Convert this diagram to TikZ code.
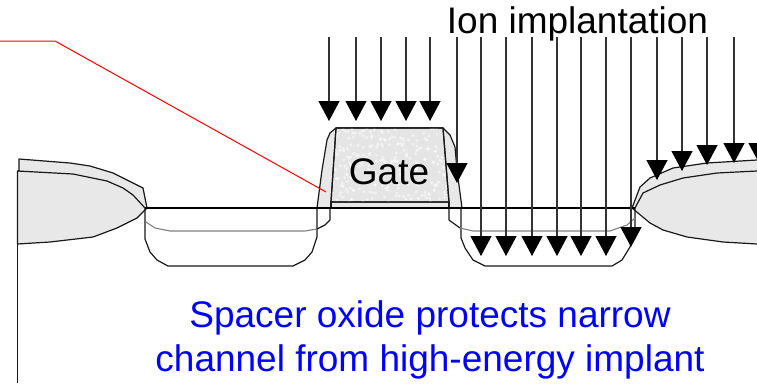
\documentclass[tikz,border=0pt]{standalone}
\usepackage{fontspec}
\setmainfont{Liberation Sans}
\usetikzlibrary{arrows.meta}
\definecolor{OxideGray}{gray}{0.91}
\definecolor{PolyGray}{gray}{0.90}
\definecolor{ShaftGray}{gray}{0.2}
\definecolor{ImplantGray}{gray}{0.5}
\definecolor{NoteBlue}{RGB}{0, 0, 255}

\begin{document}
\begin{tikzpicture}[
        x=1pt, y=-1pt,
        outline/.style={draw=black!90, line width=1.2pt, line join=round},
        oxide/.style={outline, fill=OxideGray},
        ion/.style={
          draw=ShaftGray,
          line width=1.2pt,
          -{Triangle[length=20pt, width=21pt, black]}
        },
        biglabel/.style={font=\fontsize{37}{44}\selectfont, inner sep=0pt},
        note/.style={biglabel, text=NoteBlue, align=center}
      ]
        \useasboundingbox (0, 0) rectangle (757, 383);
        \clip (0, 0) rectangle (757, 383);

        % field oxide, left and right
        \draw[oxide] (19, 159) -- (70, 163) -- (90, 166) -- (113, 173) -- (143, 188) -- (147, 208)
          -- (137, 218) -- (117, 228) -- (93, 237) -- (50, 242) -- (17.5, 244) -- (17.5, 171) -- (19, 171) -- cycle;
        \draw[outline] (17.5, 171) -- (73, 174) -- (107, 181) -- (123, 188) -- (133, 195) -- (145, 208);
        \draw[outline] (17.5, 244) -- (17.5, 383);
        \draw[oxide] (757, 160) -- (707, 163) -- (673, 168) -- (650, 178) -- (640, 187) -- (632, 208)
          -- (650, 223) -- (663, 230) -- (687, 237) -- (723, 242) -- (757, 244);
        \draw[outline] (635, 208) -- (643, 193) -- (660, 185) -- (683, 178) -- (717, 173) -- (757, 171);

        % source and drain
        \draw[outline] (145, 208) -- (145, 239) -- (150, 252) -- (157, 260) -- (168, 266) -- (293, 266)
          -- (305, 260) -- (312, 252) -- (317, 237) -- (317, 208);
        \draw[outline] (461, 208) -- (461, 238) -- (465, 248) -- (473, 260) -- (485, 266) -- (612, 266)
          -- (622, 260) -- (630, 247) -- (635, 230) -- (635, 208);
        \draw[ImplantGray, line width=1.1pt] (146, 222) -- (155, 228) -- (170, 231) -- (305, 231) -- (317, 229);
        \draw[outline] (317, 229) -- (325, 225) -- (330, 220) -- (330, 208);
        \draw[outline] (449, 208) -- (449, 220) -- (460, 228);
        \draw[ImplantGray, line width=1.1pt] (460, 228) -- (473, 231) -- (610, 231) -- (627, 225) -- (635, 218);

        % spacer and gate
        \draw[oxide] (317, 208) -- (322, 170) -- (327, 140) -- (330, 133) -- (336, 128) -- (443, 128)
          -- (450, 135) -- (455, 147) -- (457, 170) -- (462, 208) -- cycle;
        \draw[outline, fill=PolyGray] (336, 128) -- (443, 128) -- (449, 202) -- (331, 202) -- cycle;
        \begin{scope}
          \clip (336, 128) -- (443, 128) -- (449, 202) -- (331, 202) -- cycle;
          \pgfmathsetseed{7}
          \foreach \i in {1,...,260} {
            \fill[white, opacity=0.55] (331+118*rnd, 128+74*rnd) circle (1.6);
          }
        \end{scope}
        \draw[outline] (336, 128) -- (443, 128) -- (449, 202) -- (331, 202) -- cycle;
        \draw[outline] (331, 202) -- (331, 208);
        \draw[outline] (449, 202) -- (449, 208);
        \draw[black, line width=1.6pt] (145, 208) -- (635, 208);
        \node (gate) at (389, 172) [biglabel] {Gate};

        % red leader
        \coordinate (leadstart) at (0, 41);
        \coordinate (leadbend) at (55, 41);
        \coordinate (leadend) at (326, 192);
        \draw[red, line width=1pt] (leadstart) -- (leadbend) -- (leadend);

        % implant arrows
        \foreach \name/\xpos/\ytip in {a/329/121, b/356/121, c/381/121, d/406/121, e/430/121,
            f/457/183, g/481/256, h/506/256, i/532/256, j/557/256, k/581/256, l/606/256, m/631/247,
            n/657/180, o/682/171, p/707/165, q/734/163} {
          \coordinate (top\name) at (\xpos, 37);
          \coordinate (tip\name) at (\xpos, \ytip);
          \draw[ion] (top\name) -- (tip\name);
        }
        \coordinate (topr) at (759, 141);
        \coordinate (tipr) at (759, 163);
        \draw[ion] (topr) -- (tipr);

        \node (ionlabel) at (577.5, 24) [biglabel] {Ion implantation};
        \node (spacernote) at (430, 340) [note] {Spacer oxide protects narrow\\channel from high-energy implant};
      \end{tikzpicture}
\end{document}
